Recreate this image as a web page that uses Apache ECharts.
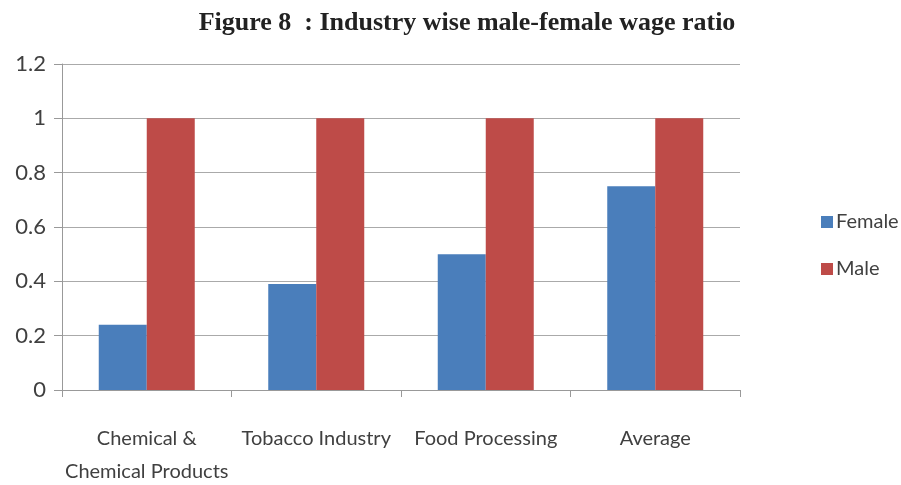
<!DOCTYPE html>
<html><head><meta charset="utf-8">
<script src="https://cdn.jsdelivr.net/npm/echarts@6/dist/echarts.min.js"></script>
<style>html,body{margin:0;padding:0;background:#fff}#c{width:901px;height:485px}</style>
</head><body><div id="c"></div>
<script>
const categories = ['Chemical &\nChemical Products', 'Tobacco Industry', 'Food Processing', 'Average'];
const female = [0.24, 0.39, 0.5, 0.75];
const male = [1, 1, 1, 1];
const yTicks = [0, 0.2, 0.4, 0.6, 0.8, 1, 1.2];

const chart = echarts.init(document.getElementById('c'));
chart.setOption({
  animation: false,
  title: {
    text: 'Figure 8  : Industry wise male-female wage ratio',
    left: 462, top: 5, textAlign: 'center',
    textStyle: {fontFamily: 'Liberation Serif', fontWeight: 'bold', fontSize: 26, color: '#222'}
  },
  legend: {
    orient: 'vertical', left: 816, top: 207, itemGap: 27,
    itemWidth: 12, itemHeight: 12, icon: 'rect',
    textStyle: {fontFamily: 'Lato', fontSize: 20, color: '#404040', padding: [0,0,0,-2]},
    data: ['Female', 'Male']
  },
  grid: {left: 62, right: 161, top: 64, bottom: 95, outerBoundsMode: 'none', containLabel: false},
  xAxis: {
    type: 'category', data: categories,
    axisLine: {lineStyle: {color: '#999'}},
    axisTick: {show: true, length: 7, lineStyle: {color: '#999'}},
    axisLabel: {fontFamily: 'Lato', fontSize: 20, color: '#404040', margin: 32, lineHeight: 33, interval: 0}
  },
  yAxis: {
    type: 'value', min: 0, max: 1.2, interval: 0.2,
    axisLine: {show: true, lineStyle: {color: '#999'}},
    axisTick: {show: true, length: 8, lineStyle: {color: '#999'}},
    splitLine: {lineStyle: {color: '#aaa'}},
    axisLabel: {fontFamily: 'Lato', fontSize: 22, color: '#404040', margin: 16,
      formatter: v => { const t = yTicks.find(x => Math.abs(x - v) < 1e-9); return t === undefined ? '' : String(t); }}
  },
  series: [
    {name: 'Female', type: 'bar', data: female, barWidth: 48, barGap: '0%', itemStyle: {color: '#4a7ebb'}},
    {name: 'Male', type: 'bar', data: male, barWidth: 48, barGap: '0%', itemStyle: {color: '#be4b48'}}
  ]
});
</script></body></html>
